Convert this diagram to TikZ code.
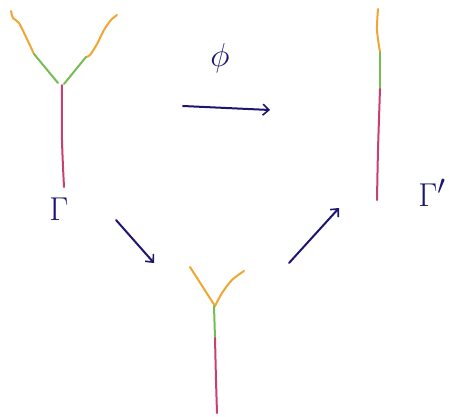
\documentclass[tikz,border=0pt]{standalone}
\usepackage{xcolor}
\usepackage{amsmath,amssymb}
\usepackage{tikz}
\usetikzlibrary{arrows.meta,positioning,calc}
\definecolor{ink}{HTML}{1C1670}
\definecolor{leafor}{HTML}{EFA633}
\definecolor{edgegr}{HTML}{76BC55}
\definecolor{rootrd}{HTML}{C8416E}
\tikzset{
  orbr/.style={draw=leafor,line width=2pt,line cap=round,line join=round},
  grbr/.style={draw=edgegr,line width=2pt,line cap=round,line join=round},
  rdbr/.style={draw=rootrd,line width=2pt,line cap=round,line join=round},
  maparr/.style={-{Straight Barb[length=6pt,width=11pt,line width=1.6pt]},
    line width=2pt,color=ink,line cap=round},
  graphlabel/.style={font=\Huge,scale=1.33,color=ink,inner sep=0pt},
}
\begin{document}
\begin{tikzpicture}[x=1pt,y=-1pt]
  \useasboundingbox (0,0) rectangle (449,416);
  \clip (0,0) rectangle (449,416);

  % Gamma (left)
  \draw[orbr] plot[smooth] coordinates {(11,11) (13,18) (19,23) (26,37) (34,54)};
  \draw[grbr] (34,54) -- (58,83);
  \draw[orbr] plot[smooth] coordinates {(117,15) (111,20) (104,30) (97,44) (90,55) (86,57)};
  \draw[grbr] (86,57) -- (64,84);
  \draw[rdbr] plot[smooth] coordinates {(62,85) (62,140) (64,187)};
  \node[graphlabel] (gam) at (59,209) {$\Gamma$};

  % Gamma' (right)
  \draw[orbr] plot[smooth] coordinates {(378,9) (377,30) (380,52)};
  \draw[grbr] (380,52) -- (380,89);
  \draw[rdbr] plot[smooth] coordinates {(380,89) (378,150) (377,200)};
  \node[graphlabel,anchor=west] (gamp) at (418,193) {$\Gamma'$};

  % middle
  \draw[orbr] (190,267) -- (215,306);
  \draw[orbr] plot[smooth] coordinates {(244,271) (232,280) (222,293) (215,306)};
  \draw[grbr] (214,306) -- (215,338);
  \draw[rdbr] plot[smooth] coordinates {(215,338) (216,380) (217,413)};

  % maps
  \coordinate (phis) at (183,106);
  \coordinate (phie) at (270,110);
  \coordinate (dls) at (116,220);
  \coordinate (dle) at (154,263);
  \coordinate (urs) at (289,263);
  \coordinate (ure) at (339,208);
  \draw[maparr] (phis) -- (phie);
  \node[graphlabel] (phi) at (220,58) {$\phi$};
  \draw[maparr] (dls) -- (dle);
  \draw[maparr] (urs) -- (ure);
\end{tikzpicture}
\end{document}
